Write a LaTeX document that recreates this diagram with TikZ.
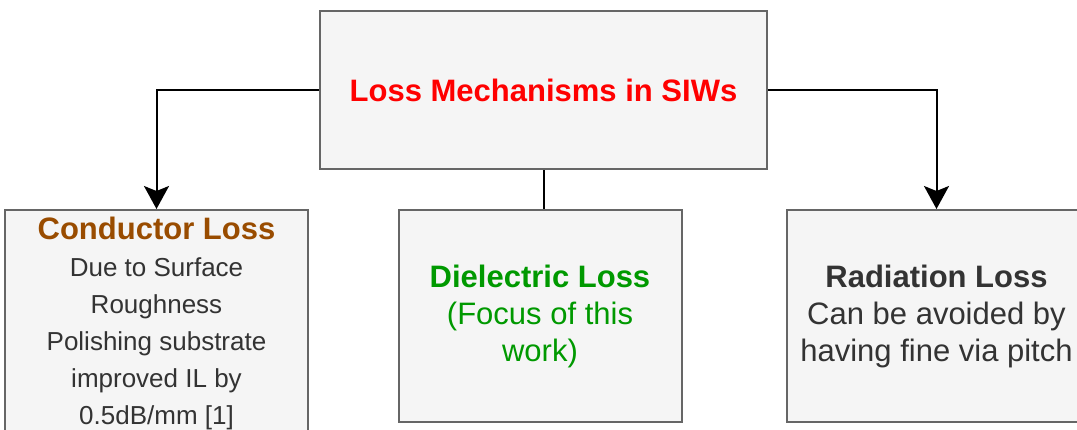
\documentclass[tikz,border=0pt]{standalone}
\usepackage{fontspec}
\setmainfont{Liberation Sans}
\usetikzlibrary{arrows.meta}
\definecolor{boxfill}{HTML}{F5F5F5}
\definecolor{boxline}{HTML}{666666}
\definecolor{txtgray}{HTML}{333333}
\definecolor{condbrown}{HTML}{994C00}
\definecolor{dielgreen}{HTML}{009900}

\begin{document}
\begin{tikzpicture}[x=1pt,y=-1pt,
    lossbox/.style={draw=boxline, fill=boxfill, line width=2pt, align=center,
        inner sep=0pt, text=txtgray, font=\fontsize{31}{37}\selectfont},
    link/.style={line width=2pt, black},
    tip/.style={-{Stealth[length=23pt,width=25pt,inset=5pt]}}]
    \useasboundingbox (0,0) rectangle (1077,429);
    % Blok glowny
    \node[lossbox, minimum width=447pt, minimum height=158pt, text=red,
        font=\bfseries\fontsize{31}{37}\selectfont] (main) at (543.5,90)
        {Loss Mechanisms in SIWs};
    % Bloki rodzajow strat
    \node[lossbox, minimum width=303pt, minimum height=226pt,
        font=\fontsize{26}{37}\selectfont] (cond) at (156.5,323)
        {\textcolor{condbrown}{\bfseries\fontsize{31}{37}\selectfont Conductor Loss}\\
         Due to Surface\\ Roughness\\ Polishing substrate\\ improved IL by\\ 0.5dB/mm [1]};
    \node[lossbox, minimum width=283pt, minimum height=212pt, text=dielgreen] (diel) at (540,316)
        {\textbf{Dielectric Loss}\\ (Focus of this\\ work)};
    \node[lossbox, minimum width=299pt, minimum height=212pt] (rad) at (936.5,316)
        {\textbf{Radiation Loss}\\ Can be avoided by\\ having fine via pitch};
    % Polaczenia
    \draw[link,tip] (main.west) -| (cond.north);
    \draw[link,tip] (main.east) -| (rad.north);
    \draw[link] (main.south) -- (main.south |- diel.north);
\end{tikzpicture}
\end{document}
